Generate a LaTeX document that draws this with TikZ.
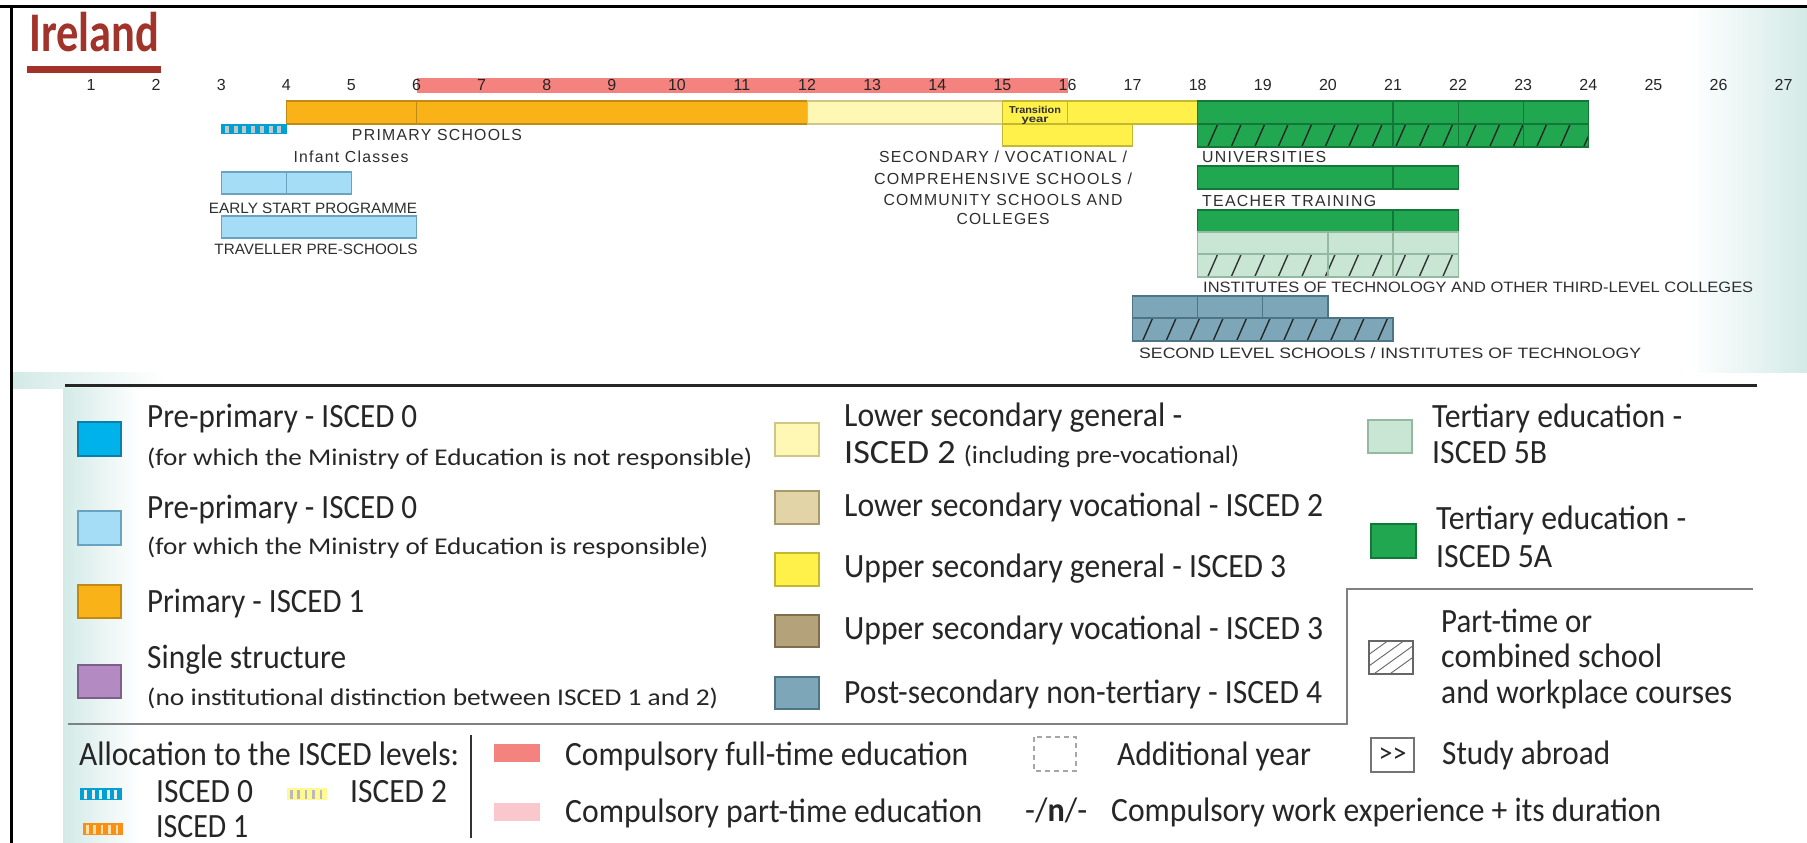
\documentclass[tikz,border=0pt]{standalone}
\usepackage{fontspec}
\usepackage{graphicx}
\setmainfont{Carlito}
\newfontfamily\lgf{Carlito}
\newfontfamily\chf{Liberation Sans}
\newfontfamily\chsp{Liberation Sans}[LetterSpace=8]
\newcommand\W[2]{\resizebox{#1pt}{\height}{#2}}
\definecolor{cPrim}{HTML}{F9B318}\definecolor{cPrimD}{HTML}{C08A14}
\definecolor{cLyel}{HTML}{FFF8B5}\definecolor{cLyelD}{HTML}{CFC788}
\definecolor{cYel}{HTML}{FFF14A}\definecolor{cYelD}{HTML}{C4B832}
\definecolor{cTan}{HTML}{E2D4A6}\definecolor{cTanD}{HTML}{A89A6C}
\definecolor{cBrown}{HTML}{B3A27A}\definecolor{cBrownD}{HTML}{7E6E4E}
\definecolor{cBg}{HTML}{7DA7B8}\definecolor{cBgD}{HTML}{4D7585}
\definecolor{cLblue}{HTML}{A6DDF6}\definecolor{cLblueD}{HTML}{6AA3C0}
\definecolor{cBlue}{HTML}{00B2EA}\definecolor{cBlueD}{HTML}{0B7FA8}
\definecolor{cPurp}{HTML}{B38AC1}\definecolor{cPurpD}{HTML}{7E5E8A}
\definecolor{cLgr}{HTML}{C8E6D3}\definecolor{cLgrD}{HTML}{93B9A1}
\definecolor{cGr}{HTML}{21A74F}\definecolor{cGrD}{HTML}{14773A}
\definecolor{cRed}{HTML}{F4827F}\definecolor{cPink}{HTML}{F9C7CC}
\definecolor{cTitle}{HTML}{A2332A}\definecolor{cTeal}{HTML}{D3EAE7}
\definecolor{txt}{HTML}{262626}\definecolor{chtxt}{HTML}{2E2E2E}
\newcommand\AX[1]{91+(#1-1)*65.1}
\newcommand\bx[5]{\filldraw[#5] ({\AX{#1}},#3) rectangle ({\AX{#2}},#4);}
\newcommand\hrow[6]{%
  \fill[#5] ({\AX{#1}},#3) rectangle ({\AX{#2}},#4);
  \begin{scope}
    \clip ({\AX{#1}},#3) rectangle ({\AX{#2}},#4);
    \foreach \k in {0,...,20}{\draw[#6,line width=1.4pt] ({\AX{#1}-14+\k*23.5},{#4+1}) -- ++(11,-25);}
  \end{scope}}
\begin{document}
\begin{tikzpicture}[x=1pt,y=-1pt,
  lg/.style={inner sep=0pt,font=\lgf\fontsize{34}{40}\selectfont,text=txt},
  lgs/.style={inner sep=0pt,font=\lgf\fontsize{24}{28}\selectfont,text=txt},
  ch/.style={inner sep=0pt,font=\chf\fontsize{15}{18}\selectfont,text=chtxt},
  chs/.style={inner sep=0pt,font=\chsp\fontsize{16}{18}\selectfont,text=chtxt},
  num/.style={inner sep=0pt,font=\chf\fontsize{16}{18}\selectfont,text=black!85},
  prim/.style={fill=cPrim,draw=cPrimD,line width=1.2pt},
  lyel/.style={fill=cLyel,draw=cLyelD,line width=1.2pt},
  yel/.style={fill=cYel,draw=cYelD,line width=1.2pt},
  lblue/.style={fill=cLblue,draw=cLblueD,line width=1.2pt},
  green/.style={fill=cGr,draw=cGrD,line width=1.2pt},
  lgreen/.style={fill=cLgr,draw=cLgrD,line width=1.2pt},
  bgrey/.style={fill=cBg,draw=cBgD,line width=1.2pt},
  swatch/.style={line width=1.2pt}]
\useasboundingbox (0,0) rectangle (1807,843);
\fill[white] (0,0) rectangle (1807,843);
% backgrounds
\shade[left color=white,right color=cTeal] (1690,9) rectangle (1807,372);
\shade[left color=cTeal,right color=white] (13,372) rectangle (165,388);
\shade[left color=cTeal,right color=white] (63,388) rectangle (140,843);
% frame
\draw[line width=3.5pt] (0,6.5) -- (1807,6.5);
\draw[line width=3pt] (11,5) -- (11,843);
% title
\node[anchor=base west,inner sep=0pt,font=\lgf\bfseries\fontsize{56}{60}\selectfont,text=cTitle] (title) at (29,52) {\W{130}{Ireland}};
\fill[cTitle] (27,66) rectangle (161,73);
% compulsory strip and axis
\fill[cRed] ({\AX{6}},78) rectangle ({\AX{16}},93);
\foreach \n in {1,...,27}{\node[num,anchor=base] (a\n) at ({\AX{\n}},91) {\n};}
% primary row
\bx{4}{6}{101}{124}{prim}
\bx{6}{12}{101}{124}{prim}
\bx{12}{15}{101}{124}{lyel}
\bx{15}{17}{124}{146}{yel}
\bx{15}{16}{101}{124}{yel}
\bx{16}{18}{101}{124}{yel}
\node[anchor=base,inner sep=0pt,font=\chf\bfseries\fontsize{10}{11}\selectfont,text=chtxt] (tr1) at (1035,113) {\W{52}{Transition}};
\node[anchor=base,inner sep=0pt,font=\chf\bfseries\fontsize{10}{11}\selectfont,text=chtxt] (tr2) at (1035,122) {\W{27}{year}};
% ISCED0 allocation bar
\fill[cBlue!90!black] (221,124) rectangle (287,134);
\foreach \i in {0,...,6}{\fill[gray!45] ({225+\i*8.7},125.5) rectangle ++(4,7);}
% pre-primary
\bx{3}{4}{172}{194}{lblue}
\bx{4}{5}{172}{194}{lblue}
\bx{3}{6}{216}{238}{lblue}
% universities
\bx{18}{21}{101}{124}{green}
\bx{21}{22}{101}{124}{green}
\bx{22}{23}{101}{124}{green}
\bx{23}{24}{101}{124}{green}
\hrow{18}{24}{124}{147}{cGr}{black!85}
\foreach \a/\b in {18/21,21/22,22/23,23/24}{\draw[draw=cGrD,line width=1.2pt] ({\AX{\a}},124) rectangle ({\AX{\b}},147);}
% teacher training
\bx{18}{21}{166}{189}{green}
\bx{21}{22}{166}{189}{green}
% institutes
\bx{18}{21}{210}{232}{green}
\bx{21}{22}{210}{232}{green}
\bx{18}{20}{232}{254}{lgreen}
\bx{20}{21}{232}{254}{lgreen}
\bx{21}{22}{232}{254}{lgreen}
\hrow{18}{22}{254}{277}{cLgr}{black!80}
\foreach \a/\b in {18/20,20/21,21/22}{\draw[draw=cLgrD,line width=1.2pt] ({\AX{\a}},254) rectangle ({\AX{\b}},277);}
% second level
\bx{17}{18}{296}{318}{bgrey}
\bx{18}{19}{296}{318}{bgrey}
\bx{19}{20}{296}{318}{bgrey}
\hrow{17}{21}{318}{341}{cBg}{black!85}
\draw[draw=cBgD,line width=1.2pt] ({\AX{17}},318) rectangle ({\AX{21}},341);
% chart labels
\node[chs,anchor=base] (lprim) at (437,140) {\W{170}{PRIMARY SCHOOLS}};
\node[chs,anchor=base] (linf) at (351,162) {\W{115}{Infant Classes}};
\node[ch,anchor=base] (lesp) at (313,213) {\W{208}{EARLY START PROGRAMME}};
\node[ch,anchor=base] (ltrav) at (316,254) {\W{203}{TRAVELLER PRE-SCHOOLS}};
\node[chs,anchor=base] (lsec1) at (1003,162) {\W{248}{SECONDARY / VOCATIONAL /}};
\node[chs,anchor=base] (lsec2) at (1003,184) {\W{258}{COMPREHENSIVE SCHOOLS /}};
\node[chs,anchor=base] (lsec3) at (1003,205) {\W{239}{COMMUNITY SCHOOLS AND}};
\node[chs,anchor=base] (lsec4) at (1003,224) {\W{93}{COLLEGES}};
\node[chs,anchor=base west] (luniv) at (1202,162) {\W{124}{UNIVERSITIES}};
\node[chs,anchor=base west] (lteach) at (1202,206) {\W{174}{TEACHER TRAINING}};
\node[ch,anchor=base west] (linst) at (1203,292) {\W{550}{INSTITUTES OF TECHNOLOGY AND OTHER THIRD-LEVEL COLLEGES}};
\node[ch,anchor=base west] (lsecond) at (1139,358) {\W{502}{SECOND LEVEL SCHOOLS / INSTITUTES OF TECHNOLOGY}};
% legend lines
\draw[line width=3pt,black!85] (65,385) -- (1757,385);
\draw[line width=1.5pt,black!50] (68,724) -- (1347,724) -- (1347,589) -- (1753,589);
\draw[line width=1.5pt,black!80] (471,735) -- (471,838);
% legend column 1
\filldraw[swatch,fill=cBlue,draw=cBlueD] (78,422) rectangle (121,456);
\filldraw[swatch,fill=cLblue,draw=cLblueD] (78,511) rectangle (121,545);
\filldraw[swatch,fill=cPrim,draw=cPrimD] (78,585) rectangle (121,618);
\filldraw[swatch,fill=cPurp,draw=cPurpD] (78,665) rectangle (121,698);
\node[lg,anchor=base west] (l1a) at (147,427) {\W{270}{Pre-primary - ISCED 0}};
\node[lgs,anchor=base west] (l1b) at (147,465) {\W{605}{(for which the Ministry of Education is not responsible)}};
\node[lg,anchor=base west] (l2a) at (147,518) {\W{270}{Pre-primary - ISCED 0}};
\node[lgs,anchor=base west] (l2b) at (147,554) {\W{561}{(for which the Ministry of Education is responsible)}};
\node[lg,anchor=base west] (l3) at (147,612) {\W{217}{Primary - ISCED 1}};
\node[lg,anchor=base west] (l4a) at (147,668) {\W{199}{Single structure}};
\node[lgs,anchor=base west] (l4b) at (147,705) {\W{571}{(no institutional distinction between ISCED 1 and 2)}};
% legend column 2
\filldraw[swatch,fill=cLyel,draw=cLyelD] (775,423) rectangle (819,456);
\filldraw[swatch,fill=cTan,draw=cTanD] (775,491) rectangle (819,524);
\filldraw[swatch,fill=cYel,draw=cYelD] (775,553) rectangle (819,586);
\filldraw[swatch,fill=cBrown,draw=cBrownD] (775,615) rectangle (819,647);
\filldraw[swatch,fill=cBg,draw=cBgD] (775,677) rectangle (819,709);
\node[lg,anchor=base west] (m1a) at (844,426) {\W{338}{Lower secondary general -}};
\node[lg,anchor=base west] (m1b) at (844,463) {\W{395}{ISCED 2 {\fontsize{25}{28}\selectfont (including pre-vocational)}}};
\node[lg,anchor=base west] (m2) at (844,516) {\W{479}{Lower secondary vocational - ISCED 2}};
\node[lg,anchor=base west] (m3) at (844,577) {\W{442}{Upper secondary general - ISCED 3}};
\node[lg,anchor=base west] (m4) at (844,639) {\W{479}{Upper secondary vocational - ISCED 3}};
\node[lg,anchor=base west] (m5) at (844,703) {\W{478}{Post-secondary non-tertiary - ISCED 4}};
% legend column 3
\filldraw[swatch,fill=cLgr,draw=cLgrD] (1368,420) rectangle (1412,453);
\filldraw[swatch,fill=cGr,draw=cGrD] (1371,524) rectangle (1416,558);
\begin{scope}
  \clip (1369,641) rectangle (1413,674);
  \foreach \k in {0,...,3}{\draw[black!60,line width=0.9pt] ({1369-30+\k*16},676) -- ++(50,-36);}
\end{scope}
\draw[black!60,line width=1.2pt] (1369,641) rectangle (1413,674);
\node[lg,anchor=base west] (t1a) at (1432,427) {\W{250}{Tertiary education -}};
\node[lg,anchor=base west] (t1b) at (1432,463) {\W{115}{ISCED 5B}};
\node[lg,anchor=base west] (t2a) at (1436,529) {\W{250}{Tertiary education -}};
\node[lg,anchor=base west] (t2b) at (1436,567) {\W{116}{ISCED 5A}};
\node[lg,anchor=base west] (p1) at (1441,632) {\W{151}{Part-time or}};
\node[lg,anchor=base west] (p2) at (1441,667) {\W{221}{combined school}};
\node[lg,anchor=base west] (p3) at (1441,703) {\W{291}{and workplace courses}};
% bottom legend
\node[lg,anchor=base west] (alloc) at (79,765) {\W{380}{Allocation to the ISCED levels:}};
\fill[cBlue!90!black] (80,788) rectangle (122,800);
\foreach \i in {0,...,4}{\fill[white!85!gray] ({84+\i*7.6},789.5) rectangle ++(3,9);}
\node[lg,anchor=base west] (i0) at (156,802) {\W{97}{ISCED 0}};
\fill[cLyel!80!yellow] (287,788) rectangle (327,800);
\foreach \i in {0,...,4}{\fill[gray!55] ({290+\i*7.4},789.5) rectangle ++(2.5,9);}
\node[lg,anchor=base west] (i2) at (350,802) {\W{97}{ISCED 2}};
\fill[cPrim!80!red] (83,823) rectangle (123,835);
\foreach \i in {0,...,4}{\fill[cPrim!35] ({86+\i*7.4},824.5) rectangle ++(2.5,9);}
\node[lg,anchor=base west] (i1) at (156,837) {\W{92}{ISCED 1}};
\fill[cRed] (494,744) rectangle (540,762);
\node[lg,anchor=base west] (cf) at (565,765) {\W{403}{Compulsory full-time education}};
\fill[cPink] (494,803) rectangle (540,821);
\node[lg,anchor=base west] (cp) at (565,822) {\W{417}{Compulsory part-time education}};
\draw[black!35,line width=1.2pt,dash pattern=on 5pt off 4pt] (1034,737) rectangle (1076,771);
\node[lg,anchor=base west] (ay) at (1117,765) {\W{194}{Additional year}};
\node[draw=black!55,line width=1.2pt,minimum width=43pt,minimum height=34pt,inner sep=0pt,font=\lgf\fontsize{28}{30}\selectfont,text=txt] (abroadbox) at (1392.5,755) {>>};
\node[lg,anchor=base west] (sa) at (1442,764) {\W{168}{Study abroad}};
\node[lg,anchor=base west] (nn) at (1025,821) {\W{62}{-/\textbf{n}/-}};
\node[lg,anchor=base west] (cw) at (1111,821) {\W{550}{Compulsory work experience + its duration}};
\end{tikzpicture}
\end{document}
